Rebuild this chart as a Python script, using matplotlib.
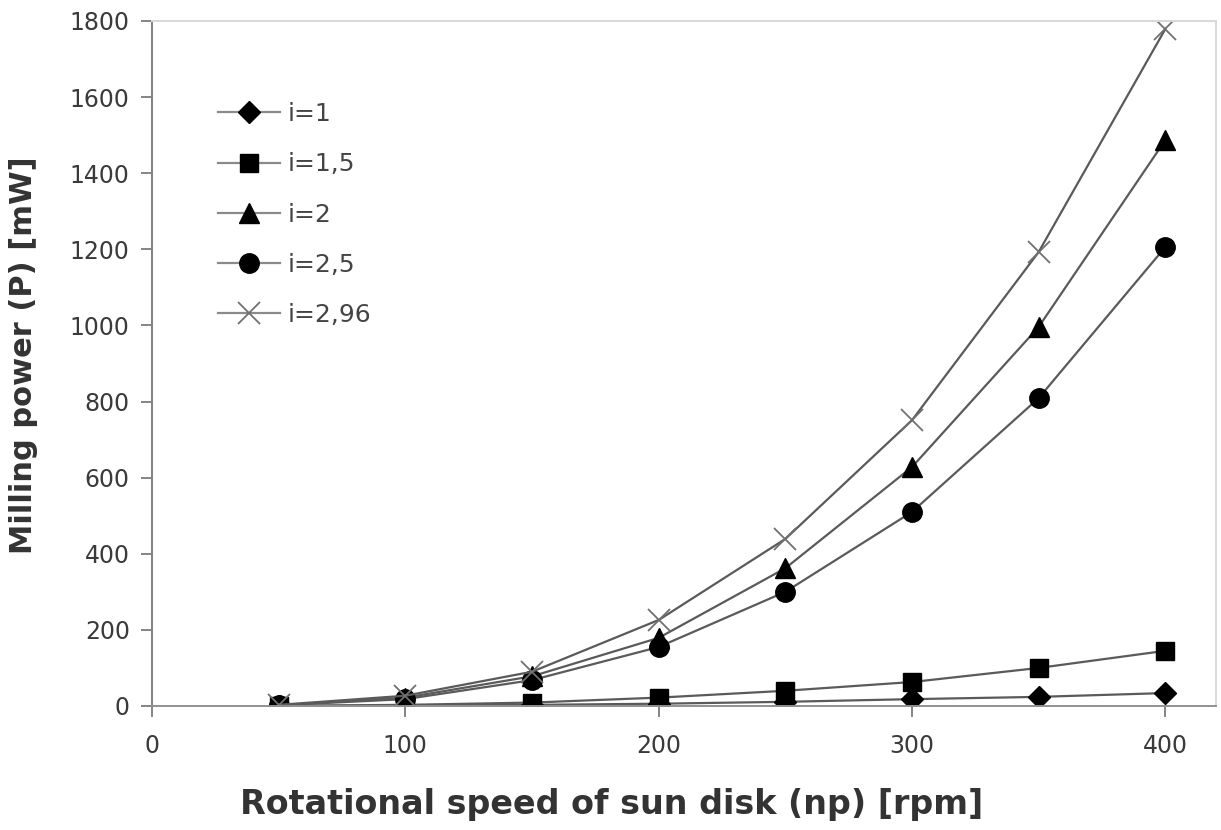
import matplotlib
matplotlib.use("Agg")
import matplotlib.pyplot as plt

plt.rcParams['font.family'] = ['DejaVu Sans']

speed = [50, 100, 150, 200, 250, 300, 350, 400]
p_i1 = [0.3, 1, 3, 6, 11, 18, 24, 34]
p_i15 = [0.5, 3, 9, 22, 40, 63, 100, 145]
p_i2 = [2, 22, 78, 179, 362, 628, 996, 1487]
p_i25 = [2, 18, 68, 155, 300, 510, 809, 1206]
p_i296 = [3, 27, 90, 226, 439, 751, 1193, 1779]
labels = ['i=1', 'i=1,5', 'i=2', 'i=2,5', 'i=2,96']
xticks = [0, 100, 200, 300, 400]
yticks = [0, 200, 400, 600, 800, 1000, 1200, 1400, 1600, 1800]

fig = plt.figure(figsize=(12.21, 8.30), dpi=100)
ax = fig.add_axes([0.1245, 0.1494, 0.8714, 0.8253])

lc = '#5a5a5a'
series = [p_i1, p_i15, p_i2, p_i25, p_i296]
styles = [
    dict(marker='D', markersize=11, mfc='black', mec='black'),
    dict(marker='s', markersize=13, mfc='black', mec='black'),
    dict(marker='^', markersize=14, mfc='black', mec='black'),
    dict(marker='o', markersize=14, mfc='black', mec='black'),
    dict(marker='x', markersize=16, mec='#707070', mew=1.3),
]
for ys, lab, st in zip(series, labels, styles):
    ax.plot(speed, ys, color=lc, lw=1.6, label=lab, **st)

ax.set_xlim(0, 420)
ax.set_ylim(0, 1800)
ax.set_xticks(xticks)
ax.set_yticks(yticks)
ax.tick_params(axis='both', direction='out', length=8, width=1.2, color='#707070',
               labelsize=17, labelcolor='#3a3a3a')
ax.tick_params(axis='x', pad=12)
ax.tick_params(axis='y', pad=8)

ax.spines['left'].set_color('#808080')
ax.spines['bottom'].set_color('#909090')
ax.spines['left'].set_linewidth(1.4)
ax.spines['bottom'].set_linewidth(1.4)
ax.spines['top'].set_color('#d8d8d8')
ax.spines['right'].set_color('#d8d8d8')
ax.spines['top'].set_linewidth(1.4)
ax.spines['right'].set_linewidth(1.4)

ax.set_xlabel('Rotational speed of sun disk (np) [rpm]', fontsize=24, fontweight='bold',
              color='#333333')
ax.xaxis.set_label_coords(0.432, -0.12)
ax.set_ylabel('Milling power (P) [mW]', fontsize=22, fontweight='bold',
              color='#333333')
ax.yaxis.set_label_coords(-0.107, 0.512)

leg = ax.legend(loc='upper left', bbox_to_anchor=(0.0526, 0.896), frameon=False,
                fontsize=18, handlelength=2.5, handletextpad=0.3, labelspacing=1.05,
                borderaxespad=0)
for t in leg.get_texts():
    t.set_color('#444444')
for h in leg.get_lines():
    h.set_color('#8a8a8a')

fig.savefig('out.png', dpi=100)
